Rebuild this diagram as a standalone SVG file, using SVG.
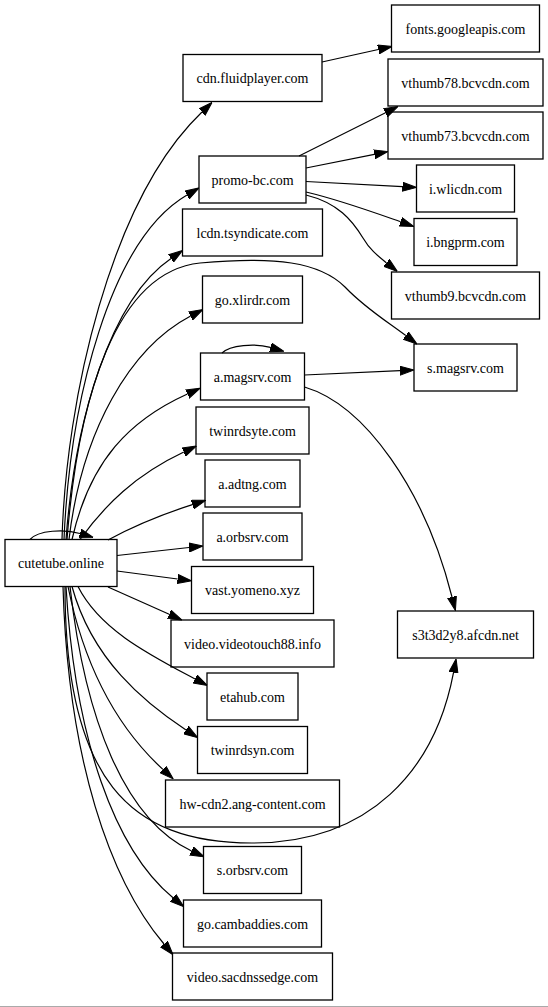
<svg xmlns="http://www.w3.org/2000/svg" width="548" height="1007" viewBox="0 0 548 1007">
<style>
.n rect{fill:none;stroke:#000;stroke-width:1.3}
.n text{font-family:"Liberation Serif","Times New Roman",serif;font-size:14px;fill:#000;text-anchor:middle}
.e path{fill:none;stroke:#000;stroke-width:1.2;marker-end:url(#ah)}
</style>
<defs>
<marker id="ah" viewBox="0 0 14 10" refX="0" refY="5" markerWidth="14" markerHeight="10" markerUnits="userSpaceOnUse" orient="auto">
<path d="M0,0.5 L14,5 L0,9.5 z" fill="#000" stroke="#000" stroke-width="1"/>
</marker>
</defs>
<rect x="0" y="0" width="548" height="1007" fill="#fff"/>
<line x1="0" y1="1006.5" x2="548" y2="1006.5" stroke="#aaa" stroke-width="1"/>
<g id="connectors" class="e">
<path d="M62,539.5 C66,400 110,200 202,112"/>
<path d="M64,539.5 C70,400 110,240 187,195"/>
<path d="M66,539.5 C75,420 110,300 171,258.4"/>
<path d="M67,539.5 C78,400 115,272 200,263 C275,256 320,262 345,287 C365,308 385,320 405.8,335.6"/>
<path d="M69,539.5 C82,430 130,348 190.6,316"/>
<path d="M72,539.5 C90,460 130,420 187.4,394"/>
<path d="M80,539.5 C105,505 135,475 183.8,452"/>
<path d="M108,540 C130,528 160,515 192.4,504.6"/>
<path d="M117,555.5 L189,547.5"/>
<path d="M117,571 L177.6,579"/>
<path d="M108,587 L169.2,614.3"/>
<path d="M78,586.5 C100,630 150,655 195,679"/>
<path d="M72,586.5 C92,660 145,703 186,730"/>
<path d="M68,586.5 C85,670 120,730 162.9,769.4"/>
<path d="M65,586.5 C65,780 130,843 252,843 C370,843 435,770 453.5,672.6"/>
<path d="M70,586.5 C85,720 125,820 191.6,851"/>
<path d="M66,586.5 C75,740 115,850 173,897.8"/>
<path d="M63,586.5 C68,760 110,880 164,944"/>
<path d="M30,539.5 C38,530 65,529 80,533.5"/>
<path d="M322,62 L378.3,49.5"/>
<path d="M299,156 L385.5,112.8"/>
<path d="M306,168 L374.3,154.3"/>
<path d="M306,181.5 L402.5,186.7"/>
<path d="M306,192 C340,200 370,211 400.6,221.8"/>
<path d="M306,195 C338,203 352,220 363,238 C370,250 378,256 386.5,262.8"/>
<path d="M304.5,375 L400,370.6"/>
<path d="M304.5,387 C365,405 425,490 452,597"/>
<path d="M222,353 C230,345 255,343 270.4,347.4"/>
</g>
<g id="cutetube.online" class="n"><rect x="5" y="539.5" width="112" height="47"/><text x="61" y="568">cutetube.online</text></g>
<g id="cdn.fluidplayer.com" class="n"><rect x="183" y="54.5" width="139" height="47"/><text x="252.5" y="83">cdn.fluidplayer.com</text></g>
<g id="fonts.googleapis.com" class="n"><rect x="391.5" y="5" width="148" height="47"/><text x="465.5" y="33.5">fonts.googleapis.com</text></g>
<g id="vthumb78.bcvcdn.com" class="n"><rect x="388" y="59" width="155" height="47"/><text x="465.5" y="87.5">vthumb78.bcvcdn.com</text></g>
<g id="vthumb73.bcvcdn.com" class="n"><rect x="388" y="112" width="155" height="47"/><text x="465.5" y="140.5">vthumb73.bcvcdn.com</text></g>
<g id="promo-bc.com" class="n"><rect x="199" y="156" width="107" height="47"/><text x="252.5" y="184.5">promo-bc.com</text></g>
<g id="i.wlicdn.com" class="n"><rect x="416.5" y="165" width="98" height="47"/><text x="465.5" y="193.5">i.wlicdn.com</text></g>
<g id="lcdn.tsyndicate.com" class="n"><rect x="182.5" y="209" width="140" height="47"/><text x="252.5" y="237.5">lcdn.tsyndicate.com</text></g>
<g id="i.bngprm.com" class="n"><rect x="414" y="218.5" width="103" height="47"/><text x="465.5" y="247">i.bngprm.com</text></g>
<g id="vthumb9.bcvcdn.com" class="n"><rect x="391.5" y="272" width="148" height="47"/><text x="465.5" y="300.5">vthumb9.bcvcdn.com</text></g>
<g id="go.xlirdr.com" class="n"><rect x="202.5" y="276" width="100" height="47"/><text x="252.5" y="304.5">go.xlirdr.com</text></g>
<g id="s.magsrv.com" class="n"><rect x="414" y="344" width="103" height="47"/><text x="465.5" y="372.5">s.magsrv.com</text></g>
<g id="a.magsrv.com" class="n"><rect x="200.5" y="353" width="104" height="47"/><text x="252.5" y="381.5">a.magsrv.com</text></g>
<g id="twinrdsyte.com" class="n"><rect x="196" y="407" width="113" height="47"/><text x="252.5" y="435.5">twinrdsyte.com</text></g>
<g id="a.adtng.com" class="n"><rect x="205" y="460" width="95" height="47"/><text x="252.5" y="488.5">a.adtng.com</text></g>
<g id="a.orbsrv.com" class="n"><rect x="203" y="513" width="99" height="47"/><text x="252.5" y="541.5">a.orbsrv.com</text></g>
<g id="vast.yomeno.xyz" class="n"><rect x="191.5" y="566.5" width="122" height="47"/><text x="252.5" y="595">vast.yomeno.xyz</text></g>
<g id="s3t3d2y8.afcdn.net" class="n"><rect x="397.5" y="611" width="136" height="47"/><text x="465.5" y="639.5">s3t3d2y8.afcdn.net</text></g>
<g id="video.videotouch88.info" class="n"><rect x="171" y="620" width="163" height="47"/><text x="252.5" y="648.5">video.videotouch88.info</text></g>
<g id="etahub.com" class="n"><rect x="207" y="673" width="91" height="47"/><text x="252.5" y="701.5">etahub.com</text></g>
<g id="twinrdsyn.com" class="n"><rect x="197.5" y="726.5" width="110" height="47"/><text x="252.5" y="755">twinrdsyn.com</text></g>
<g id="hw-cdn2.ang-content.com" class="n"><rect x="165.5" y="780" width="174" height="47"/><text x="252.5" y="808.5">hw-cdn2.ang-content.com</text></g>
<g id="s.orbsrv.com" class="n"><rect x="203.5" y="846.5" width="98" height="47"/><text x="252.5" y="875">s.orbsrv.com</text></g>
<g id="go.cambaddies.com" class="n"><rect x="183.5" y="900" width="138" height="47"/><text x="252.5" y="928.5">go.cambaddies.com</text></g>
<g id="video.sacdnssedge.com" class="n"><rect x="172.5" y="953" width="160" height="47"/><text x="252.5" y="981.5">video.sacdnssedge.com</text></g>
</svg>
